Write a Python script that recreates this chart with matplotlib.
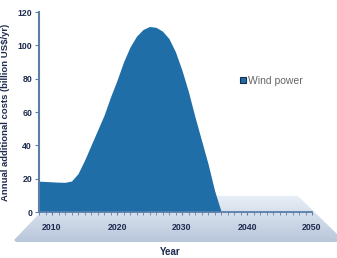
import matplotlib.pyplot as plt
import numpy as np
from matplotlib.patches import Polygon, Patch
from matplotlib.colors import LinearSegmentedColormap

plt.rcParams['font.family'] = ['Liberation Sans', 'DejaVu Sans']

# data
years = [2008, 2009, 2010, 2011, 2012, 2013, 2014, 2015, 2016, 2017, 2018, 2019,
         2020, 2021, 2022, 2023, 2024, 2025, 2026, 2027, 2028, 2029, 2030, 2031,
         2032, 2033, 2034, 2035, 2036, 2040, 2045, 2050]
wind_costs = [18.5, 18.3, 18.1, 17.9, 17.8, 18.6, 23, 31, 40, 49, 58, 69,
              79, 90, 99, 105.5, 109.5, 111.3, 110.8, 108.5, 104, 96, 85, 72,
              57, 43, 29, 13, 0.5, 0.5, 0.5, 0.5]
x_ticks = [2010, 2020, 2030, 2040, 2050]
y_ticks = [0, 20, 40, 60, 80, 100, 120]

navy = '#1d2b4f'
axis_col = '#5b7fa9'
fill_col = '#1f6ea7'

fig = plt.figure(figsize=(3.37, 2.58), dpi=100)

# background "floor" drawn in pixel coordinates
bg = fig.add_axes([0, 0, 1, 1], zorder=-1)
bg.set_xlim(0, 337)
bg.set_ylim(258, 0)
bg.axis('off')
floor = [(14, 240), (40, 213), (40, 196), (298, 196), (337, 234), (337, 242), (16, 242)]
grad = np.linspace(0, 1, 100).reshape(-1, 1)
im = bg.imshow(grad, extent=(0, 337, 242, 196), aspect='auto',
               cmap=LinearSegmentedColormap.from_list('fl', ['#e8eef6', '#b9c7db']))
poly = Polygon(floor, closed=True, facecolor='none', edgecolor='none')
bg.add_patch(poly)
im.set_clip_path(poly)

ax = fig.add_axes([39 / 337, 1 - 212 / 258, (312 - 39) / 337, 200 / 258])
ax.patch.set_alpha(0)
ax.fill_between(years, wind_costs, 0, color=fill_col, linewidth=0)
ax.set_xlim(2008, 2050)
ax.set_ylim(0, 120)

for s in ['top', 'right']:
    ax.spines[s].set_visible(False)
ax.spines['left'].set_color(axis_col)
ax.spines['bottom'].set_color(axis_col)
ax.spines['left'].set_linewidth(1.5)
ax.spines['bottom'].set_linewidth(1.2)

ax.set_xticks(x_ticks)
ax.set_xticks(range(2008, 2051), minor=True)
ax.set_yticks(y_ticks)
ax.tick_params(axis='x', which='both', length=2, color=axis_col, pad=6,
               labelsize=6.3, labelcolor=navy)
ax.tick_params(axis='y', length=3, color=axis_col, pad=2, labelsize=6.3, labelcolor=navy)
for lbl in ax.get_xticklabels() + ax.get_yticklabels():
    lbl.set_fontweight('bold')

ax.set_ylabel('Annual additional costs (billion US$/yr)', fontsize=6.8,
              fontweight='bold', color=navy, labelpad=5)
fig.text(170 / 337, 1 - 252 / 258, 'Year', ha='center', va='center',
         fontsize=7, fontweight='bold', color=navy)

ax.legend(handles=[Patch(facecolor=fill_col, edgecolor=navy, linewidth=0.8, label='Wind power')],
          loc='center left', bbox_to_anchor=(235 / 337, 1 - 81 / 258),
          bbox_transform=fig.transFigure, frameon=False, handlelength=0.55,
          handleheight=0.55, handletextpad=0.2, borderpad=0,
          prop={'size': 7.5}, labelcolor='#666666')

fig.savefig('out.png', dpi=100)
